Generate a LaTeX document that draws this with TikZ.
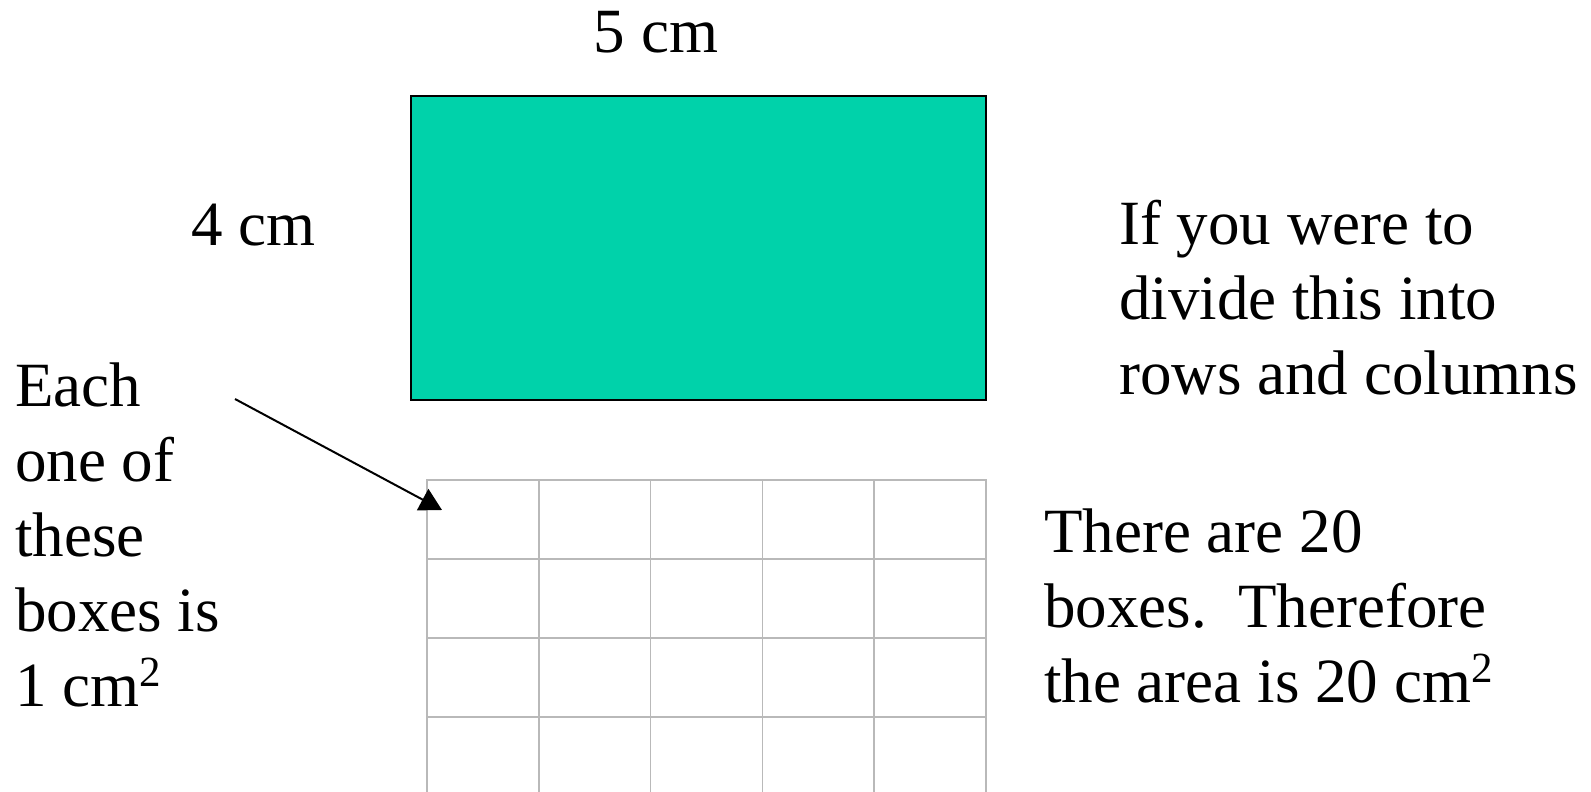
\documentclass[tikz,border=0pt]{standalone}
\usepackage{fontspec}
\setmainfont{Liberation Serif}
\usetikzlibrary{arrows.meta}
\definecolor{boxgreen}{RGB}{0,210,170}
\definecolor{gridgray}{RGB}{185,185,185}
\newcommand\sqtwo{\raisebox{20pt}{\fontsize{43}{43}\selectfont 2}}
\begin{document}
\begin{tikzpicture}[x=1pt,y=-1pt,
  lbl/.style={inner sep=0pt, font=\fontsize{63}{75}\selectfont, align=left, anchor=base west},
  gridline/.style={draw=gridgray, line width=1.5pt},
  gridborder/.style={draw=gridgray, line width=2.5pt},
  pointer/.style={draw=black, line width=2pt, -{Triangle[length=22pt,width=24pt]}}]
\useasboundingbox (0,0) rectangle (1591,792);
\clip (0,0) rectangle (1591,792);
\fill[white] (0,0) rectangle (1591,792);
% green rectangle
\node[draw=black, fill=boxgreen, line width=2pt, inner sep=0pt, outer sep=0pt,
      minimum width=575pt, minimum height=304pt, anchor=north west] (rect) at (411,96) {};
% grid
\foreach \x in {538.8,650.6,762.4,874.2}
  \draw[gridline] (\x,480) -- (\x,800);
\foreach \y in {559,638,717}
  \draw[gridline] (427,\y) -- (986,\y);
\draw[gridborder] (427,800) -- (427,480) -- (986,480) -- (986,800);
% labels (base anchor = baseline of the last line)
\node[lbl, anchor=base] (top) at (656,53) {5 cm};
\node[lbl] (side) at (191,245) {4 cm};
\node[lbl] (divide) at (1119,394) {If you were to\\divide this into\\rows and columns};
\node[lbl] (each) at (15,706) {Each\\one of\\these\\boxes is\\1 cm\sqtwo};
\node[lbl] (there) at (1044,702) {There are 20\\boxes.\ \ Therefore\\the area is 20 cm\sqtwo};
% arrow
\coordinate (astart) at (235,399);
\coordinate (atip) at (442,510);
\draw[pointer] (astart) -- (atip);
\end{tikzpicture}
\end{document}
